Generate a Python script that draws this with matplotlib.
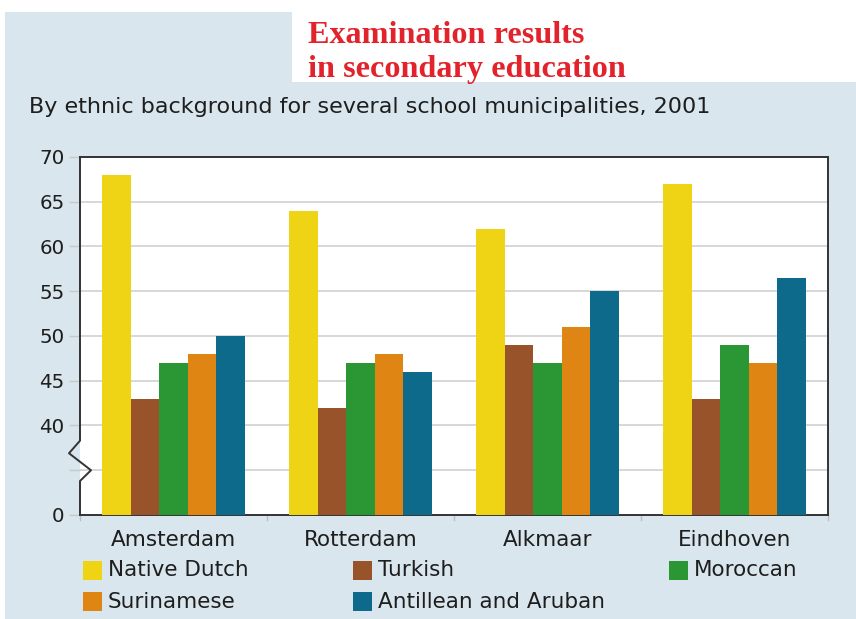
import matplotlib
matplotlib.use("Agg")
import matplotlib.pyplot as plt
from matplotlib.patches import Rectangle
from matplotlib.lines import Line2D
import numpy as np

categories = ["Amsterdam", "Rotterdam", "Alkmaar", "Eindhoven"]
series_names = ["Native Dutch", "Turkish", "Moroccan", "Surinamese", "Antillean and Aruban"]
native_dutch = [68, 64, 62, 67]
turkish = [43, 42, 49, 43]
moroccan = [47, 47, 47, 49]
surinamese = [48, 48, 51, 47]
antillean = [50, 46, 55, 56.5]
series_values = [native_dutch, turkish, moroccan, surinamese, antillean]
colors = ["#efd416", "#98532b", "#2b9634", "#de8514", "#0e6a8b"]
ytick_values = [30, 35, 40, 45, 50, 55, 60, 65, 70]
ytick_labels = ["0", "", "40", "45", "50", "55", "60", "65", "70"]

W, H = 856, 619
fig = plt.figure(figsize=(W / 100, H / 100), dpi=100)
fig.patch.set_facecolor("white")
renderer = fig.canvas.get_renderer()

def fx(px):
    return px / W

def fy(py):
    return 1 - py / H

def fit_width(t, target_px):
    w = t.get_window_extent(renderer=renderer).width
    t.set_fontsize(t.get_fontsize() * target_px / w)

bg = "#d9e6ed"
fig.add_artist(Rectangle((fx(5), 0), 1 - fx(5), fy(12), transform=fig.transFigure,
                         facecolor=bg, edgecolor="none", zorder=0))
fig.add_artist(Rectangle((fx(292), fy(82)), 1 - fx(292), 1 - fy(82), transform=fig.transFigure,
                         facecolor="white", edgecolor="none", zorder=0))

sans = ["DejaVu Sans"]
serif = ["Liberation Serif", "DejaVu Serif"]
txt_color = "#1e1e1e"

t1 = fig.text(fx(308), fy(43), "Examination results", color="#e3232b",
              fontsize=22, family=serif, weight="bold", va="baseline", ha="left")
t2 = fig.text(fx(308), fy(77), "in secondary education", color="#e3232b",
              fontsize=22, family=serif, weight="bold", va="baseline", ha="left")
fit_width(t2, 317)
t1.set_fontsize(t2.get_fontsize())

st = fig.text(fx(29), fy(113), "By ethnic background for several school municipalities, 2001",
              color=txt_color, fontsize=14.5, family=sans, va="baseline", ha="left")
fit_width(st, 681)

L, R, T, B = 80, 828, 157, 515
ax = fig.add_axes([fx(L), fy(B), fx(R) - fx(L), fy(T) - fy(B)])
ax.set_facecolor("white")

n = len(series_names)
w = 0.153
x = np.arange(len(categories))
for j in range(n):
    ax.bar(x + (j - (n - 1) / 2) * w, np.array(series_values[j]) - 30, width=w, bottom=30,
           color=colors[j], edgecolor="none", zorder=3)

ax.set_xlim(-0.5, len(categories) - 0.5)
ax.set_ylim(30, 70)

for v in [35, 40, 45, 50, 55, 60, 65]:
    ax.axhline(v, color="#d4d4d4", lw=1.3, zorder=1)

ax.set_yticks(ytick_values)
ax.set_yticklabels(ytick_labels, fontsize=14.3, family=sans, color=txt_color)
ax.tick_params(axis="y", length=8, width=1, color="#c8c8c8", pad=3)
ax.set_xticks(x)
ax.set_xticklabels(categories, fontsize=15.5, family=sans, color=txt_color)
ax.tick_params(axis="x", length=0, pad=11)
for b in np.arange(-0.5, len(categories), 1.0):
    ax.add_line(Line2D([b, b], [0, -0.014], transform=ax.get_xaxis_transform(),
                       color="#bdbdbd", lw=1, clip_on=False))

for s in ["top", "right", "bottom"]:
    ax.spines[s].set_color("#333333")
    ax.spines[s].set_linewidth(1.4)
ax.spines["left"].set_visible(False)

aw = R - L
zx = [0, 0, -11 / aw, 11 / aw, 0, 0]
zy = [70, 38.3, 36.9, 35.0, 33.8, 30]
ax.add_line(Line2D(zx, zy, transform=ax.get_yaxis_transform(), color="#333333",
                   lw=1.4, clip_on=False, zorder=5))

# legend
leg_pos = [(83, 570.5), (353, 570.5), (669, 570.5), (83, 601.5), (353, 601.5)]
for j, name in enumerate(series_names):
    px, py = leg_pos[j]
    fig.add_artist(Rectangle((fx(px), fy(py + 9.5)), 19 / W, 19 / H, transform=fig.transFigure,
                             facecolor=colors[j], edgecolor="none"))
    fig.text(fx(px + 25), fy(py), name, fontsize=15.5, family=sans, color=txt_color,
             va="center", ha="left")

fig.savefig("out.png", dpi=100, facecolor=fig.get_facecolor())
